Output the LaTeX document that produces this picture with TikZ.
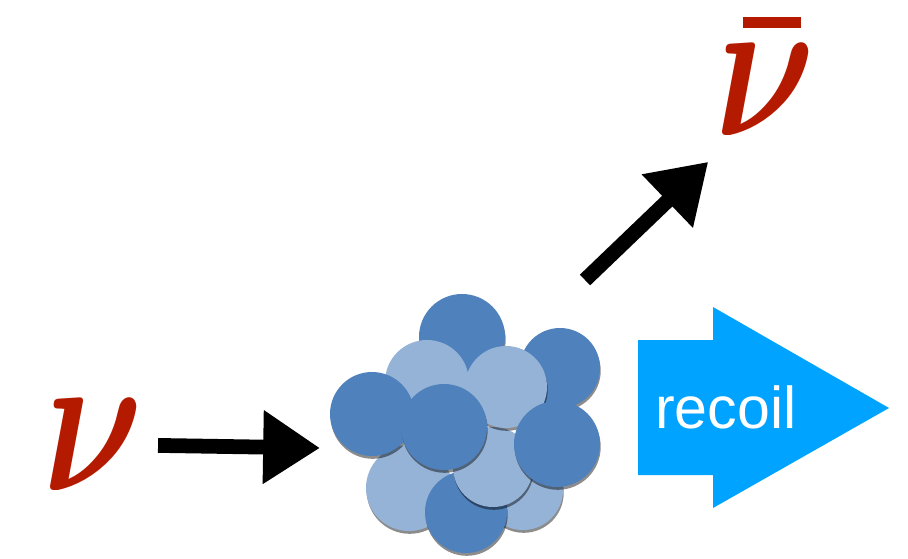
\documentclass[tikz,border=0pt]{standalone}
\usepackage{bm}
\usepackage{fontspec}
\setsansfont{Liberation Sans}
\usepackage{tikz}
\usetikzlibrary{arrows.meta,shadows}

\definecolor{nured}{RGB}{180,26,0}
\definecolor{protonblue}{RGB}{79,129,189}
\definecolor{neutronblue}{RGB}{149,179,215}
\definecolor{recoilblue}{RGB}{0,163,255}

% bar over a symbol, heavier than \bar
\newcommand{\heavybar}[1]{\rlap{\kern 1.8pt\rule[5.2pt]{3.75pt}{0.55pt}}#1}

\begin{document}
\begin{tikzpicture}[
        x=0.025cm, y=-0.025cm,
        nucleon/.style={drop shadow={shadow xshift=0.5pt, shadow yshift=-2pt, opacity=0.45, fill=black}},
        proton/.style={nucleon, fill=protonblue},
        neutron/.style={nucleon, fill=neutronblue},
        nu/.style={text=nured, inner sep=0pt, anchor=base, xscale=11, yscale=14.6},
        arrow/.style={-{Triangle[length=1.42cm, width=1.75cm]}, line width=10.5pt}
    ]
        \useasboundingbox (0,0) rectangle (908,559);

        % Nucleus, back to front
        \foreach \x/\y/\r/\kind in {462/337/43/proton, 560/368/40/proton, 523/490/40/neutron,
                409/488/43/neutron, 466/512/41/proton, 493/467/40/neutron,
                427/382/42/neutron, 506/387/41/neutron, 372/414/42/proton,
                444/427/43/proton, 557/444/43/proton}
            \path[\kind] (\x,\y) circle (\r);
        \node[circle, minimum size=4.4cm, inner sep=0pt] (nucleus) at (466,425) {};

        % Neutrinos
        \node[nu] (nuin) at (93,490) {$\bm{\nu}$};
        \node[nu] (nuout) at (765,135) {\heavybar{$\bm{\nu}$}};
        \coordinate (hit) at (320,448);
        \coordinate (kick) at (585,280);

        % Recoil
        \fill[recoilblue] (638,340) -- (713,340) -- (713,307) -- (889,408)
            -- (713,508) -- (713,475) -- (638,475) -- cycle;
        \node[anchor=base west, inner sep=0pt, text=white, font=\sffamily\fontsize{42}{50}\selectfont] (recoil) at (655,428) {recoil};

        % Arrows
        \draw[arrow, shorten <=0.3cm] (nuin) -- (hit);
        \draw[arrow, shorten >=0.82cm] (kick) -- ([xshift=0.5cm]nuout.south west);
    \end{tikzpicture}
\end{document}
